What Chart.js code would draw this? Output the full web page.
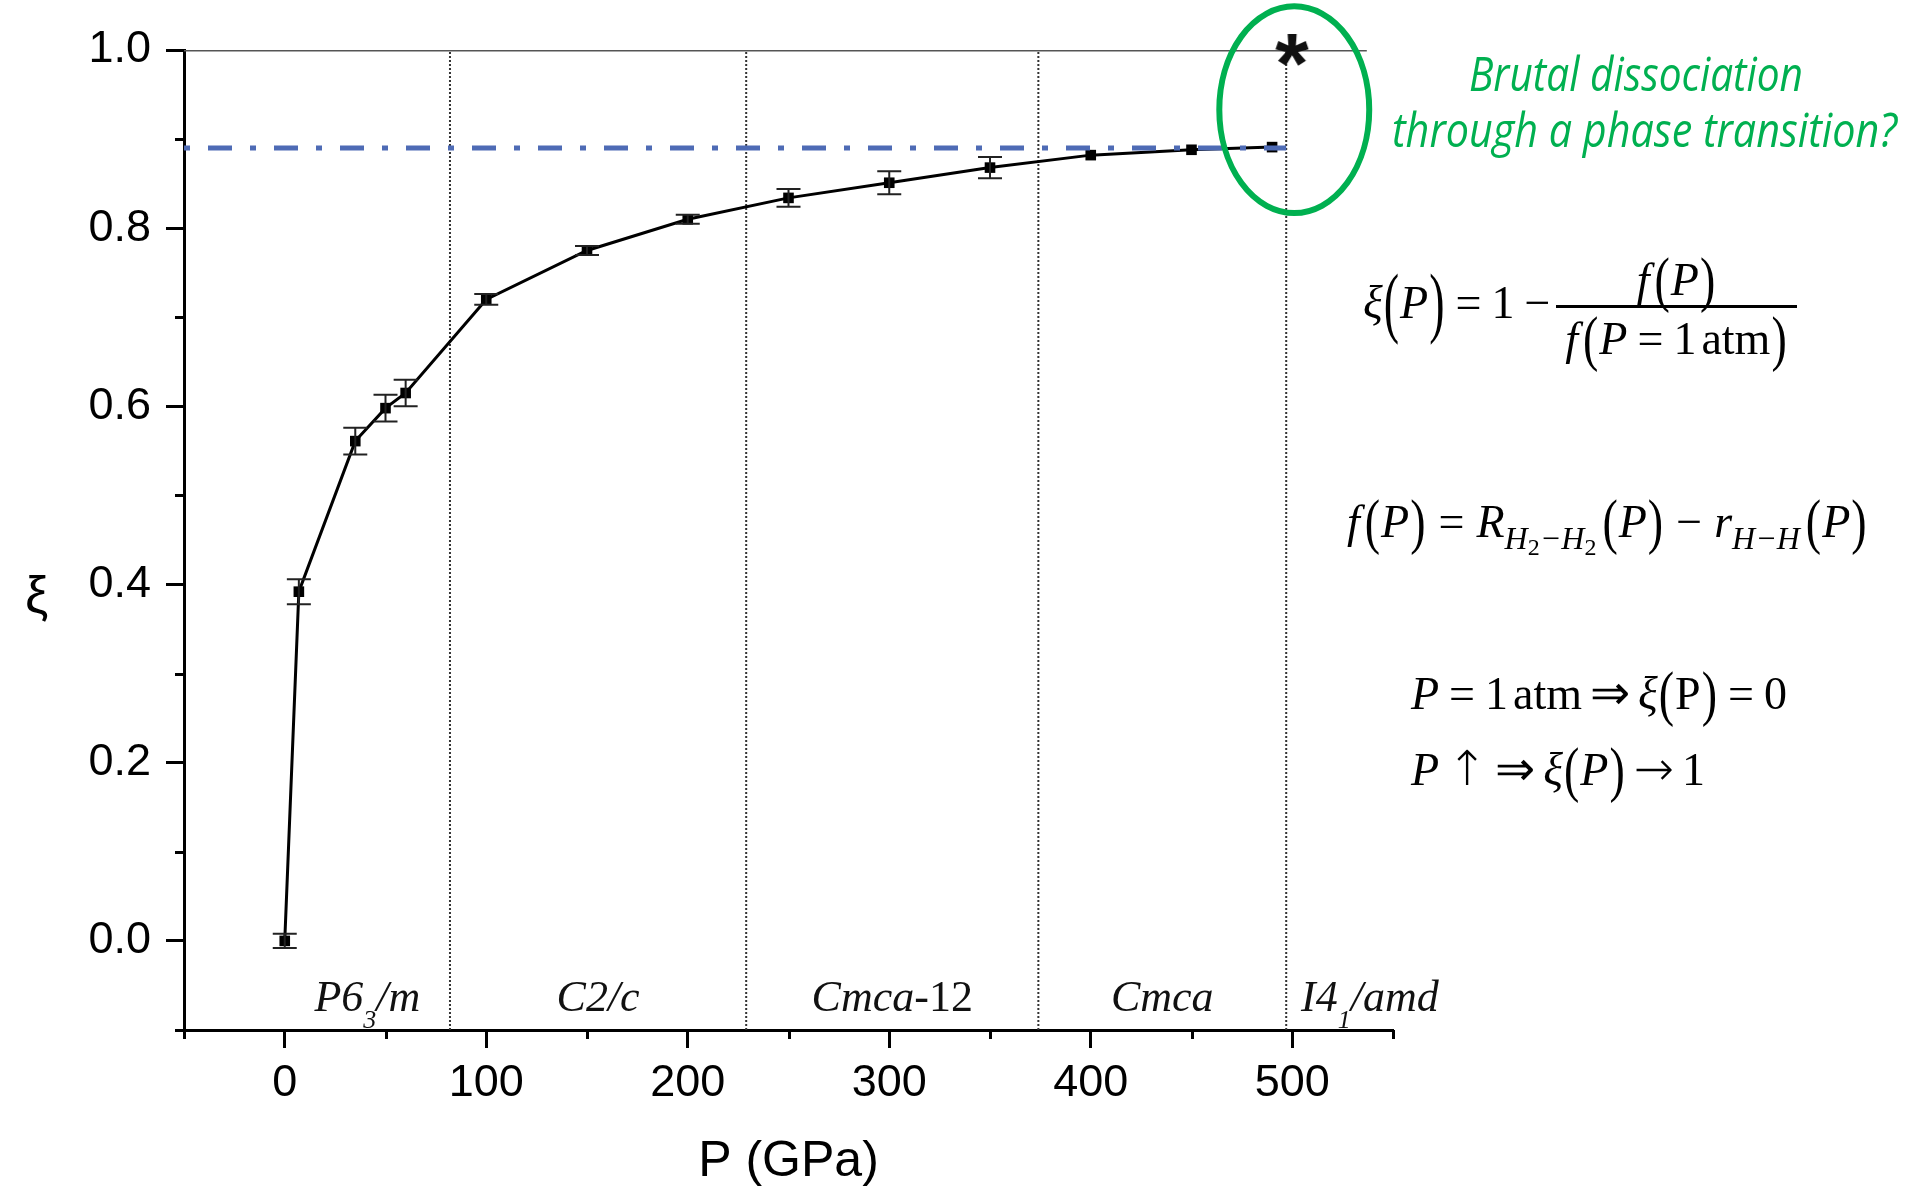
<!DOCTYPE html>
<html>
<head>
<meta charset="utf-8">
<title>ξ(P)</title>
<script src="https://cdn.jsdelivr.net/npm/chart.js@4.4.1/dist/chart.umd.min.js"></script>
<style>
  html, body { margin: 0; padding: 0; background: #fff; }
  #stage { position: relative; width: 1918px; height: 1187px; overflow: hidden; background: #fff; }
  #chart { position: absolute; left: 0; top: 0; }
  .txt { position: absolute; white-space: nowrap; line-height: 46px; }
  .eq { font-family: "Liberation Serif", "Times New Roman", "DejaVu Serif", serif; font-size: 46px; color: #000; }
  .eq i { font-style: italic; }
  .eq .f { margin-right: 4px; }
  .pa { display: inline-block; transform: scaleY(1.35); margin: 0 1px; }
  .pb { display: inline-block; transform: scaleY(1.7); margin: 0 1px; }
  .op { margin: 0 10px; }
  .op2 { margin: 0 12px; }
  .ar { font-family: "DejaVu Sans", sans-serif; font-weight: 200; font-size: 48px; margin: 0 8px; }
  .sb { font-size: 32px; font-style: italic; position: relative; top: 12px; margin-right: 5px; }
  .s2 { font-size: 24px; font-style: normal; position: relative; top: 6px; }
  .bar { position: absolute; height: 2.5px; background: #000; }
  .ctr { text-align: center; }
  .gap { margin-left: 5px; }
  .note { position: absolute; white-space: nowrap; font-family: "Open Sans", Lato, sans-serif; font-style: italic;
          font-weight: 400; font-size: 47px; line-height: 56px; color: #00b050; transform-origin: 0 50%; }
  #ylab { font-family: "Liberation Sans", Arial, sans-serif; font-size: 52px; line-height: 52px; }
</style>
</head>
<body>
<div id="stage">
  <canvas id="chart" width="1918" height="1187"></canvas>

  <div class="txt" id="ylab" style="left:25px;top:569px">ξ</div>

  <div class="note" data-w="334" style="left:1469px;top:45px">Brutal dissociation</div>
  <div class="note" data-w="505" style="left:1392px;top:101px">through a phase transition?</div>

  <!-- ξ(P) = 1 − f(P)/f(P=1atm) -->
  <div class="txt eq" style="left:1363px;top:280px"><i>ξ</i><span class="pb">(</span><i>P</i><span class="pb">)</span><span class="op">=</span>1<span class="op">−</span></div>
  <div class="txt eq ctr" style="left:1556px;width:241px;top:257px"><i class="f">f</i><span class="pa">(</span><i>P</i><span class="pa">)</span></div>
  <div class="bar" style="left:1556px;top:305px;width:241px"></div>
  <div class="txt eq ctr" style="left:1556px;width:241px;top:316px"><i class="f">f</i><span class="pa">(</span><i>P</i><span class="op">=</span>1<span class="gap">atm</span><span class="pa">)</span></div>

  <!-- f(P) = R(P) − r(P) -->
  <div class="txt eq" style="left:1347px;top:499px"><i class="f">f</i><span class="pa">(</span><i>P</i><span class="pa">)</span><span class="op2">=</span><i>R</i><span class="sb">H<span class="s2">2</span>−H<span class="s2">2</span></span><span class="pa">(</span><i>P</i><span class="pa">)</span><span class="op2">−</span><i>r</i><span class="sb">H−H</span><span class="pa">(</span><i>P</i><span class="pa">)</span></div>

  <div class="txt eq" style="left:1411px;top:669px"><i>P</i><span class="op">=</span>1<span class="gap">atm</span><span class="ar">⇒</span><i>ξ</i><span class="pa">(</span>P<span class="pa">)</span><span class="op">=</span>0</div>
  <div class="txt eq" style="left:1411px;top:745px"><i>P</i><span class="ar">↑</span><span class="ar" style="margin-left:0">⇒</span><i>ξ</i><span class="pa">(</span><i>P</i><span class="pa">)</span><span class="ar">→</span>1</div>
</div>

<script>
// ξ vs pressure
const pressure = [0, 7, 35, 50, 60, 100, 150, 200, 250, 300, 350, 400, 450, 490];
const xi       = [0.000, 0.392, 0.561, 0.598, 0.615, 0.720, 0.775, 0.810, 0.834, 0.851, 0.868, 0.882, 0.888, 0.891];
const xiErr    = [0.008, 0.014, 0.015, 0.015, 0.015, 0.006, 0.005, 0.005, 0.010, 0.013, 0.012, 0, 0, 0];

const plateau = 0.89;
const phaseBounds = [82, 229, 374, 497];
const phaseNames = ['P6_3/m', 'C2/c', 'Cmca-12', 'Cmca', 'I4_1/amd'];

const xTicks = [0, 100, 200, 300, 400, 500];
const xMinor = [-50, 50, 150, 250, 350, 450, 550];
const yTicks = [0, 0.2, 0.4, 0.6, 0.8, 1.0];
const yMinor = [-0.1, 0.1, 0.3, 0.5, 0.7, 0.9];

const sans = '"Liberation Sans", Arial, sans-serif';
const serif = '"Liberation Serif", "Times New Roman", serif';

// asterisk marker at the top of the last boundary
function asteriskMark() {
  const c = document.createElement('canvas');
  c.width = c.height = 50;
  const g = c.getContext('2d');
  g.font = 'bold 86px ' + sans;
  const m = g.measureText('*');
  const w = m.actualBoundingBoxLeft + m.actualBoundingBoxRight;
  const h = m.actualBoundingBoxAscent + m.actualBoundingBoxDescent;
  g.fillStyle = '#111';
  g.fillText('*', 25 - w / 2 + m.actualBoundingBoxLeft, 25 - h / 2 + m.actualBoundingBoxAscent);
  return c;
}

function drawPhase(ctx, name, cx, base) {
  const runs = [];
  let upright = false;
  for (let k = 0; k < name.length; k++) {
    let ch = name[k];
    if (ch === '_') { runs.push({ t: name[++k], font: 'italic 26px ' + serif, dy: 17 }); continue; }
    if (ch === '-') upright = true;
    runs.push({ t: ch, font: (upright ? '' : 'italic ') + '44px ' + serif, dy: 0 });
  }
  let w = 0;
  runs.forEach(r => { ctx.font = r.font; r.w = ctx.measureText(r.t).width; w += r.w; });
  let px = cx - w / 2;
  ctx.textBaseline = 'alphabetic';
  ctx.textAlign = 'left';
  runs.forEach(r => { ctx.font = r.font; ctx.fillText(r.t, px, base + r.dy); px += r.w; });
}

const errorBars = {
  id: 'errorBars',
  afterDatasetsDraw(chart) {
    const { ctx, scales: { x, y } } = chart;
    ctx.save();
    ctx.strokeStyle = '#222';
    ctx.lineWidth = 2;
    pressure.forEach((p, i) => {
      if (!xiErr[i]) return;
      const px = x.getPixelForValue(p);
      const hi = y.getPixelForValue(xi[i] + xiErr[i]);
      const lo = y.getPixelForValue(xi[i] - xiErr[i]);
      ctx.beginPath();
      ctx.moveTo(px, hi); ctx.lineTo(px, lo);
      ctx.moveTo(px - 12, hi); ctx.lineTo(px + 12, hi);
      ctx.moveTo(px - 12, lo); ctx.lineTo(px + 12, lo);
      ctx.stroke();
    });
    ctx.restore();
  }
};

const extras = {
  id: 'extras',
  afterDraw(chart) {
    const { ctx, scales: { x, y } } = chart;
    ctx.save();

    // minor ticks
    ctx.strokeStyle = '#000';
    ctx.lineWidth = 3;
    ctx.beginPath();
    xMinor.forEach(v => {
      const px = Math.round(x.getPixelForValue(v)) + 0.5;
      ctx.moveTo(px, y.bottom); ctx.lineTo(px, y.bottom + 9);
    });
    yMinor.forEach(v => {
      const py = Math.round(y.getPixelForValue(v)) + 0.5;
      ctx.moveTo(x.left, py); ctx.lineTo(x.left - 9, py);
    });
    ctx.stroke();

    // phase names between the boundaries
    ctx.fillStyle = '#111';
    const edges = [0, ...phaseBounds, 580];
    const base = y.getPixelForValue(-0.1) - 19;
    phaseNames.forEach((n, i) => {
      drawPhase(ctx, n, x.getPixelForValue((edges[i] + edges[i + 1]) / 2), base);
    });

    // green ring around the last point
    const cx = x.getPixelForValue(501), cy = y.getPixelForValue(0.933);
    const rx = x.getPixelForValue(501 + 37.2) - cx;
    const ry = cy - y.getPixelForValue(0.933 + 0.116);
    ctx.strokeStyle = '#00b050';
    ctx.lineWidth = 6;
    ctx.beginPath();
    ctx.ellipse(cx, cy, rx, ry, 0, 0, Math.PI * 2);
    ctx.stroke();
    ctx.restore();
  }
};

const datasets = [
  {
    data: [{ x: -50, y: plateau }, { x: phaseBounds[3], y: plateau }],
    borderColor: '#4e6bb5', borderWidth: 5, borderDash: [6, 18, 24, 18],
    borderCapStyle: 'butt', pointRadius: 0, order: 0
  },
  {
    data: [{ x: 500, y: 1.0 }],
    showLine: false, pointStyle: asteriskMark(), pointRadius: 10, clip: false, order: 1
  },
  {
    data: pressure.map((p, i) => ({ x: p, y: xi[i] })),
    borderColor: '#000', borderWidth: 3,
    pointStyle: 'rect', pointRadius: 7.5, pointBackgroundColor: '#000', pointBorderWidth: 0, order: 2
  },
  {
    data: [{ x: -50, y: 1.0 }, { x: 537, y: 1.0 }],
    borderColor: '#555', borderWidth: 3, pointRadius: 0, order: 3
  },
  ...phaseBounds.map(b => ({
    data: [{ x: b, y: -0.1 }, { x: b, y: 1.0 }],
    borderColor: '#333', borderWidth: 2, borderDash: [2, 2], pointRadius: 0, order: 4
  }))
];

new Chart(document.getElementById('chart'), {
  type: 'line',
  data: { datasets },
  plugins: [errorBars, extras],
  options: {
    responsive: false,
    animation: false,
    devicePixelRatio: 1,
    layout: { padding: { left: 0, top: 50, right: 525, bottom: 0 } },
    plugins: { legend: { display: false }, tooltip: { enabled: false } },
    scales: {
      x: {
        type: 'linear', min: -50, max: 550,
        afterBuildTicks: s => { s.ticks = xTicks.map(v => ({ value: v })); },
        afterFit: s => { s.height = 157; },
        border: { display: true, color: '#000', width: 3 },
        grid: { drawOnChartArea: false, drawTicks: true, tickLength: 18, tickColor: '#000', tickWidth: 3 },
        ticks: { color: '#000', font: { family: sans, size: 45 }, padding: 9, maxRotation: 0, autoSkip: false,
                 callback: v => String(v) },
        title: { display: true, text: 'P (GPa)', color: '#000', font: { family: sans, size: 50, lineHeight: 1 }, padding: { top: 0, bottom: 0 } }
      },
      y: {
        type: 'linear', min: -0.1, max: 1.0,
        afterBuildTicks: s => { s.ticks = yTicks.map(v => ({ value: v })); },
        afterFit: s => { s.width = 184; },
        border: { display: true, color: '#000', width: 3 },
        grid: { drawOnChartArea: false, drawTicks: true, tickLength: 18, tickColor: '#000', tickWidth: 3 },
        ticks: { color: '#000', font: { family: sans, size: 45 }, padding: 15, callback: v => v.toFixed(1) }
      }
    }
  }
});

// squeeze the green note lines to the widths they have in the figure
function fitNotes() {
  document.querySelectorAll('.note').forEach(el => {
    el.style.transform = 'none';
    const w = el.getBoundingClientRect().width;
    el.style.transform = 'scaleX(' + (el.dataset.w / w) + ')';
  });
}
fitNotes();
if (document.fonts) document.fonts.ready.then(fitNotes);
</script>
</body>
</html>
